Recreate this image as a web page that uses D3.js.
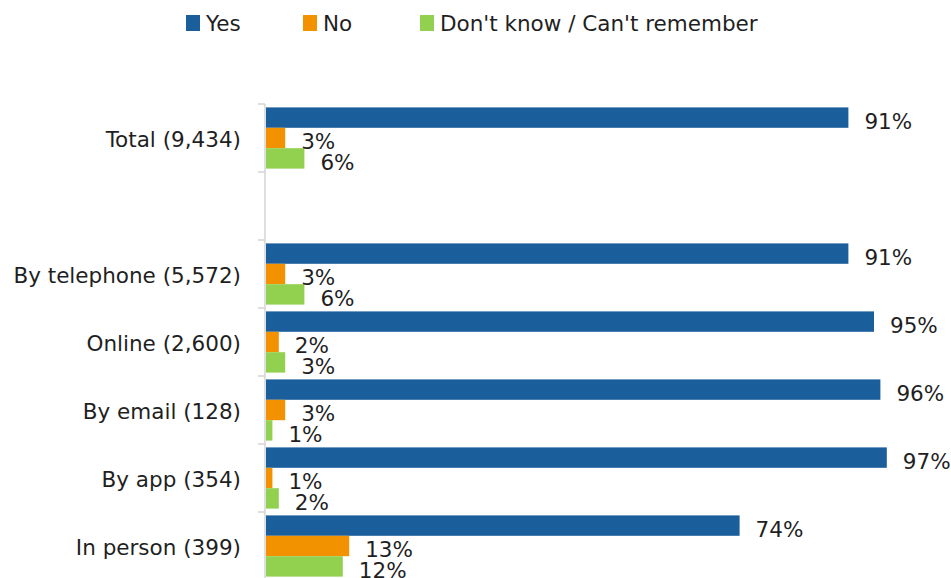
<!DOCTYPE html>
<html>
<head>
<meta charset="utf-8">
<script src="https://cdn.jsdelivr.net/npm/d3@7"></script>
<style>
  html, body { margin: 0; padding: 0; background: #fff; }
  svg { display: block; font-family: "DejaVu Sans", Verdana, sans-serif; }
</style>
</head>
<body>
<svg id="chart" width="951" height="578"></svg>
<script>
// ---- data ----
const categories = ["Total (9,434)", "", "By telephone (5,572)", "Online (2,600)", "By email (128)", "By app (354)", "In person (399)"];
const seriesNames = ["Yes", "No", "Don't know / Can't remember"];
const yesValues = [91, null, 91, 95, 96, 97, 74];
const noValues = [3, null, 3, 2, 3, 1, 13];
const dkValues = [6, null, 6, 3, 1, 2, 12];
const colors = ["#1a5e9b", "#f39200", "#92d050"];

// ---- layout ----
const svg = d3.select("#chart");
const fontSize = 21.5;
const textColor = "#1f1f1f";
const axisColor = "#d4d4d4";

const y = d3.scaleBand().domain(categories).range([104, 580]).paddingInner(0).paddingOuter(0);
const ySub = d3.scaleBand().domain(seriesNames).range([3.4, y.bandwidth() - 3.4]).padding(0);
const x = d3.scaleLinear().domain([0, 100]).range([266, 906]);

const seriesValues = [yesValues, noValues, dkValues];
const rows = [];
categories.forEach((c, i) => {
  seriesNames.forEach((s, j) => {
    const v = seriesValues[j][i];
    if (v != null) rows.push({cat: c, series: s, idx: j, value: v});
  });
});

// bars
svg.append("g").selectAll("rect").data(rows).join("rect")
  .attr("x", x(0))
  .attr("y", d => y(d.cat) + ySub(d.series))
  .attr("width", d => x(d.value) - x(0))
  .attr("height", ySub.bandwidth())
  .attr("fill", d => colors[d.idx]);

// value labels
svg.append("g").selectAll("text").data(rows).join("text")
  .attr("x", d => x(d.value) + 16)
  .attr("y", d => y(d.cat) + ySub(d.series) + ySub.bandwidth() / 2)
  .attr("dy", "0.53em")
  .attr("font-size", fontSize)
  .attr("fill", textColor)
  .text(d => d.value + "%");

// category axis
const axisG = svg.append("g");
axisG.append("line")
  .attr("x1", 265).attr("x2", 265)
  .attr("y1", y.range()[0]).attr("y2", y.range()[1])
  .attr("stroke", axisColor).attr("stroke-width", 1.5);
const boundaries = categories.map(c => y(c)).concat([y.range()[1]]);
axisG.selectAll("line.tick").data(boundaries).join("line")
  .attr("class", "tick")
  .attr("x1", 258).attr("x2", 265)
  .attr("y1", d => d).attr("y2", d => d)
  .attr("stroke", axisColor).attr("stroke-width", 1.5);
axisG.selectAll("text").data(categories.filter(c => c !== "")).join("text")
  .attr("x", 241)
  .attr("y", d => y(d) + y.bandwidth() / 2)
  .attr("dy", "0.42em")
  .attr("text-anchor", "end")
  .attr("font-size", fontSize)
  .attr("fill", textColor)
  .text(d => d);

// legend
const legendX = [186, 303, 420];
const legend = svg.append("g").selectAll("g").data(seriesNames).join("g")
  .attr("transform", (d, i) => `translate(${legendX[i]},0)`);
legend.append("rect")
  .attr("x", 0).attr("y", 15).attr("width", 14).attr("height", 16)
  .attr("fill", (d, i) => colors[i]);
legend.append("text")
  .attr("x", 20).attr("y", 31)
  .attr("font-size", fontSize)
  .attr("fill", textColor)
  .text(d => d);
</script>
</body>
</html>
